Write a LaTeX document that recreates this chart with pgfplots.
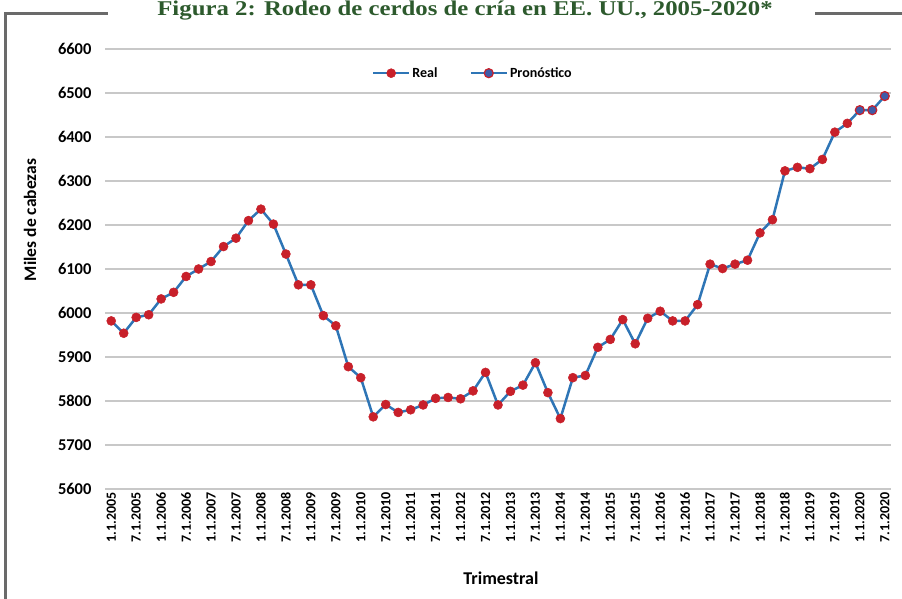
\documentclass[border=0pt]{standalone}
\usepackage{pgfplots}
\pgfplotsset{compat=1.18}
\usepackage{fontspec}
\setmainfont{Carlito}
\newfontfamily\titlefont{Liberation Serif}
\definecolor{lineblue}{HTML}{2E75B6}
\definecolor{markred}{HTML}{C8202A}
\definecolor{fcblue}{HTML}{3F5BA8}
\definecolor{titlegreen}{HTML}{2D5A2D}
\definecolor{framegray}{HTML}{6A6A6A}
\definecolor{gridgray}{HTML}{C8C8C8}
\begin{document}
\begin{tikzpicture}
\useasboundingbox (0pt,0pt) rectangle (902pt,599pt);
\draw[framegray, line width=3pt] (5pt,-5pt) -- (5pt,585pt) -- (108pt,585pt);
\draw[framegray, line width=3pt] (815pt,585pt) -- (910pt,585pt);
\node[titlegreen, anchor=base, xscale=1.18, inner sep=0pt, font=\titlefont\bfseries\fontsize{21}{24}\selectfont] at (465pt,583pt) {Figura 2: Rodeo de cerdos de cría en EE.~UU., 2005-2020*};
\begin{axis}[
  at={(105pt,110pt)}, anchor=south west,
  scale only axis, width=786pt, height=440pt,
  xmin=-0.5, xmax=62.5, ymin=5600, ymax=6600,
  ytick={5600,5700,...,6600},
  ymajorgrids, grid style={gridgray, line width=1.2pt},
  axis line style={draw=none}, major tick length=0pt,
  /pgf/number format/assume math mode=true,
  /pgf/number format/1000 sep={},
  yticklabel style={font=\bfseries\fontsize{16.5}{16.5}\selectfont, xshift=-10pt},
  xtick={0,2,...,62},
  xticklabels={1.1.2005,7.1.2005,1.1.2006,7.1.2006,1.1.2007,7.1.2007,1.1.2008,7.1.2008,1.1.2009,7.1.2009,1.1.2010,7.1.2010,1.1.2011,7.1.2011,1.1.2012,7.1.2012,1.1.2013,7.1.2013,1.1.2014,7.1.2014,1.1.2015,7.1.2015,1.1.2016,7.1.2016,1.1.2017,7.1.2017,1.1.2018,7.1.2018,1.1.2019,7.1.2019,1.1.2020,7.1.2020},
  xticklabel style={rotate=90, anchor=east, font=\bfseries\fontsize{14}{14}\selectfont},
  legend columns=2,
  legend image code/.code={\draw[mark repeat=2, mark phase=2, #1] plot coordinates {(0pt,0pt) (18pt,0pt) (36pt,0pt)};},
  legend style={at={(0.468,0.945)}, anchor=center, draw=none, fill=none,
    font=\bfseries\fontsize{14}{14}\selectfont, /tikz/every even column/.append style={column sep=30pt}},
]
\addplot[lineblue, line width=2.5pt, mark=*, mark size=4.5pt, mark options={fill=markred, draw=markred, line width=0.5pt}] coordinates {
(0,5982)(1,5954)(2,5990)(3,5996)(4,6032)(5,6047)(6,6083)(7,6100)(8,6117)(9,6151)
(10,6170)(11,6210)(12,6236)(13,6202)(14,6134)(15,6064)(16,6064)(17,5994)(18,5971)(19,5878)
(20,5853)(21,5764)(22,5792)(23,5774)(24,5780)(25,5791)(26,5806)(27,5808)(28,5805)(29,5823)
(30,5865)(31,5791)(32,5822)(33,5836)(34,5887)(35,5819)(36,5760)(37,5853)(38,5858)(39,5922)
(40,5940)(41,5985)(42,5930)(43,5988)(44,6004)(45,5982)(46,5982)(47,6019)(48,6111)(49,6101)
(50,6111)(51,6120)(52,6182)(53,6212)(54,6323)(55,6331)(56,6328)(57,6349)(58,6411)(59,6431)
};
\addlegendentry{Real}
\addplot[lineblue, line width=2.5pt, forget plot] coordinates {(59,6431)(60,6461)};
\addplot[lineblue, line width=2.5pt, mark=*, mark size=4.5pt, mark options={fill=fcblue, draw=markred, line width=1.2pt}] coordinates {
(60,6461)(61,6461)(62,6493)
};
\addlegendentry{Pronóstico}
\end{axis}
\node[font=\bfseries\fontsize{17.5}{17.5}\selectfont, rotate=90] at (30pt,379pt) {Miles de cabezas};
\node[font=\bfseries\fontsize{18}{18}\selectfont] at (501pt,21pt) {Trimestral};
\end{tikzpicture}
\end{document}
